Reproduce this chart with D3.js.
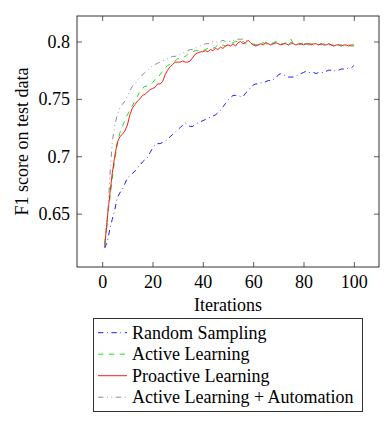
<!DOCTYPE html>
<html>
<head>
<meta charset="utf-8">
<script src="https://cdn.jsdelivr.net/npm/d3@7/dist/d3.min.js"></script>
<style>
  html, body { margin: 0; padding: 0; background: #fff; }
  svg { display: block; font-family: "Liberation Serif", "Times New Roman", serif; }
</style>
</head>
<body>
<svg id="chart" width="388" height="424"></svg>
<script>
// ---------- data ----------
const iterations = d3.range(1, 101);

const randomSampling = [
  0.620,0.625,0.636,0.645,0.653,0.664,0.668,0.671,0.676,0.681,
  0.683,0.685,0.687,0.690,0.692,0.695,0.697,0.699,0.703,0.707,
  0.710,0.711,0.711,0.712,0.713,0.715,0.717,0.719,0.721,0.723,
  0.725,0.727,0.729,0.727,0.726,0.726,0.728,0.729,0.730,0.731,
  0.732,0.733,0.734,0.735,0.736,0.738,0.740,0.743,0.746,0.749,
  0.751,0.753,0.753,0.753,0.752,0.752,0.755,0.757,0.760,0.762,
  0.763,0.763,0.764,0.764,0.765,0.766,0.766,0.767,0.768,0.771,
  0.772,0.771,0.770,0.769,0.769,0.769,0.770,0.771,0.772,0.773,
  0.774,0.773,0.773,0.773,0.772,0.773,0.773,0.773,0.774,0.775,
  0.775,0.774,0.775,0.775,0.776,0.776,0.776,0.777,0.777,0.779
];

const activeLearning = [
  0.624,0.645,0.662,0.680,0.697,0.710,0.720,0.726,0.731,0.736,
  0.740,0.744,0.748,0.752,0.757,0.759,0.761,0.761,0.762,0.764,
  0.767,0.768,0.771,0.774,0.777,0.779,0.780,0.782,0.783,0.785,
  0.785,0.786,0.787,0.789,0.790,0.791,0.792,0.792,0.793,0.792,
  0.793,0.794,0.793,0.794,0.795,0.797,0.796,0.797,0.796,0.797,
  0.798,0.799,0.800,0.800,0.799,0.800,0.798,0.797,0.797,0.798,
  0.797,0.797,0.798,0.799,0.798,0.797,0.798,0.799,0.800,0.800,
  0.798,0.798,0.799,0.800,0.802,0.798,0.798,0.797,0.798,0.798,
  0.797,0.798,0.798,0.797,0.798,0.797,0.798,0.797,0.797,0.798,
  0.797,0.797,0.796,0.797,0.797,0.796,0.797,0.797,0.796,0.796
];

const proactiveLearning = [
  0.621,0.645,0.666,0.685,0.700,0.712,0.717,0.719,0.722,0.727,
  0.736,0.742,0.745,0.748,0.750,0.753,0.754,0.756,0.758,0.759,
  0.760,0.763,0.763,0.765,0.771,0.775,0.778,0.780,0.782,0.782,
  0.782,0.783,0.782,0.782,0.783,0.786,0.789,0.790,0.791,0.791,
  0.792,0.791,0.793,0.792,0.794,0.793,0.795,0.794,0.796,0.797,
  0.796,0.798,0.796,0.799,0.800,0.798,0.799,0.801,0.799,0.797,
  0.796,0.797,0.798,0.797,0.799,0.798,0.797,0.798,0.799,0.798,
  0.797,0.798,0.798,0.797,0.799,0.798,0.797,0.798,0.798,0.797,
  0.798,0.798,0.797,0.798,0.798,0.797,0.798,0.797,0.797,0.798,
  0.797,0.796,0.797,0.797,0.796,0.797,0.797,0.796,0.797,0.797
];

const activeLearningAutomation = [
  0.622,0.640,0.680,0.712,0.727,0.736,0.742,0.745,0.748,0.752,
  0.757,0.761,0.763,0.766,0.768,0.771,0.773,0.775,0.777,0.779,
  0.780,0.781,0.782,0.783,0.784,0.785,0.786,0.787,0.787,0.788,
  0.789,0.790,0.791,0.792,0.793,0.793,0.794,0.795,0.796,0.797,
  0.798,0.798,0.799,0.800,0.800,0.799,0.800,0.801,0.800,0.800,
  0.800,0.801,0.801,0.802,0.802,0.802,0.801,0.800,0.799,0.798,
  0.797,0.797,0.797,0.798,0.797,0.798,0.797,0.798,0.798,0.798,
  0.797,0.798,0.798,0.797,0.798,0.798,0.797,0.798,0.797,0.798,
  0.798,0.797,0.798,0.797,0.798,0.797,0.797,0.798,0.797,0.797,
  0.797,0.796,0.797,0.797,0.796,0.797,0.796,0.797,0.797,0.796
];

const seriesNames = ["Random Sampling", "Active Learning", "Proactive Learning", "Active Learning + Automation"];
const xTicks = [0, 20, 40, 60, 80, 100];
const yTicks = [0.65, 0.7, 0.75, 0.8];
const yTickLabels = ["0.65", "0.7", "0.75", "0.8"];

// ---------- styles ----------
const seriesStyles = [
  { color: "#0000ff", dash: "5.4,3.6,0.8,3.6" },
  { color: "#00e000", dash: "5.4,5.4" },
  { color: "#ff0000", dash: null },
  { color: "#808080", dash: "5.4,3.6,0.8,3.6,0.8,3.6" }
];

const allSeries = [randomSampling, activeLearning, proactiveLearning, activeLearningAutomation];

// ---------- layout ----------
const svg = d3.select("#chart");
const L = 77, R = 379, T = 16, B = 267;

const x = d3.scaleLinear().domain([-10, 110]).range([L, R]);
const y = d3.scaleLinear().domain([0.6035, 0.8222]).range([B, T]);

const axisColor = "#333";

// axes
const gB = svg.append("g").attr("transform", `translate(0,${B})`)
  .call(d3.axisBottom(x).tickValues(xTicks).tickSize(-5).tickPadding(8));
const gT = svg.append("g").attr("transform", `translate(0,${T})`)
  .call(d3.axisTop(x).tickValues(xTicks).tickSize(-5).tickFormat(""));
const gL = svg.append("g").attr("transform", `translate(${L},0)`)
  .call(d3.axisLeft(y).tickValues(yTicks).tickSize(-5).tickPadding(7)
    .tickFormat((d, i) => yTickLabels[i]));
const gR = svg.append("g").attr("transform", `translate(${R},0)`)
  .call(d3.axisRight(y).tickValues(yTicks).tickSize(-5).tickFormat(""));

[gB, gT, gL, gR].forEach(g => {
  g.select(".domain").remove();
  g.selectAll(".tick line").attr("stroke", axisColor).attr("stroke-width", 0.8);
  g.selectAll(".tick text").attr("fill", "#000").attr("font-size", 18)
    .attr("font-family", "'Liberation Serif', 'Times New Roman', serif");
});

// lines
const line = d3.line().x((d, i) => x(iterations[i])).y(d => y(d));
const clip = svg.append("clipPath").attr("id", "clip")
  .append("rect").attr("x", L).attr("y", T).attr("width", R - L).attr("height", B - T);

const plot = svg.append("g").attr("clip-path", "url(#clip)");
allSeries.forEach((s, k) => {
  plot.append("path")
    .datum(s)
    .attr("d", line)
    .attr("fill", "none")
    .attr("stroke", seriesStyles[k].color)
    .attr("stroke-width", 0.9)
    .attr("stroke-dasharray", seriesStyles[k].dash)
    .attr("stroke-linejoin", "round");
});

// frame
svg.append("rect")
  .attr("x", L).attr("y", T).attr("width", R - L).attr("height", B - T)
  .attr("fill", "none").attr("stroke", axisColor).attr("stroke-width", 1);

// axis titles
svg.append("text")
  .attr("x", (L + R) / 2).attr("y", 311)
  .attr("text-anchor", "middle").attr("font-size", 18)
  .text("Iterations");

svg.append("text")
  .attr("transform", `translate(28,${(T + B) / 2}) rotate(-90)`)
  .attr("text-anchor", "middle").attr("font-size", 18)
  .text("F1 score on test data");

// legend
const lg = svg.append("g");
lg.append("rect")
  .attr("x", 93.5).attr("y", 318.5).attr("width", 269).attr("height", 93)
  .attr("fill", "#fff").attr("stroke", axisColor).attr("stroke-width", 1);

seriesNames.forEach((name, k) => {
  const cy = 332.7 + k * 21.5;
  lg.append("line")
    .attr("x1", 98).attr("x2", 127).attr("y1", cy).attr("y2", cy)
    .attr("stroke", seriesStyles[k].color)
    .attr("stroke-width", 0.9)
    .attr("stroke-dasharray", seriesStyles[k].dash);
  lg.append("text")
    .attr("x", 132).attr("y", cy + 6)
    .attr("font-size", 18)
    .text(name);
});
</script>
</body>
</html>
